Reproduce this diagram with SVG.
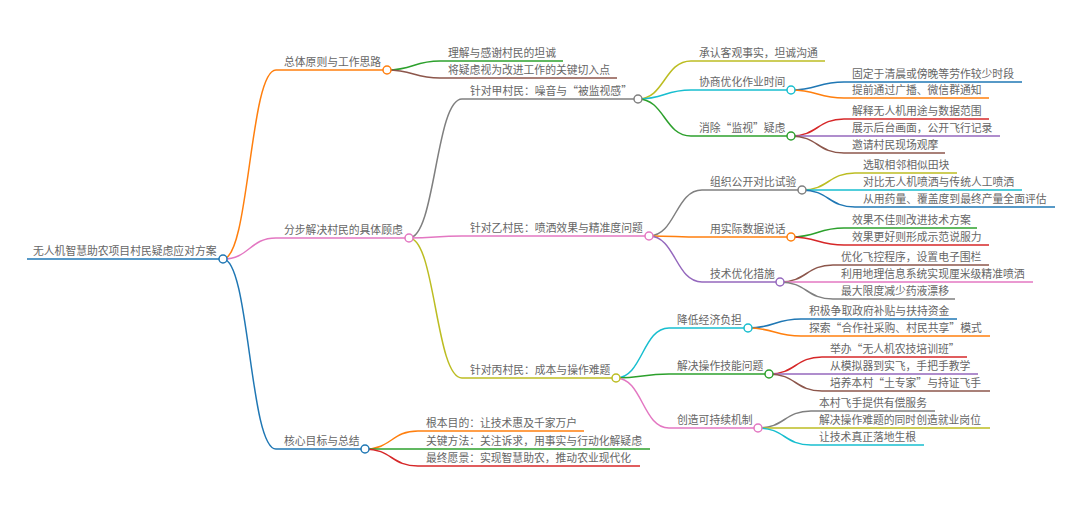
<svg xmlns="http://www.w3.org/2000/svg" width="1080" height="518" viewBox="0 0 1080 518">
<style>
text{font-family:"Noto Sans CJK SC","Noto Sans",sans-serif;font-size:10.8px;fill:#666}
path,line{fill:none;stroke-width:1.5}
circle{fill:#fff;stroke-width:1.5}
.c0{stroke:#1f77b4}.c1{stroke:#ff7f0e}.c2{stroke:#2ca02c}.c3{stroke:#d62728}.c4{stroke:#9467bd}
.c5{stroke:#8c564b}.c6{stroke:#e377c2}.c7{stroke:#7f7f7f}.c8{stroke:#bcbd22}.c9{stroke:#17becf}
</style>
<rect width="1080" height="518" fill="#fff"/>
<g id="connectors">
<path class="c1" d="M223 259C249.5 259 249.5 70 276 70"/>
<path class="c6" d="M223 259C249.5 259 249.5 238 276 238"/>
<path class="c0" d="M223 259C249.5 259 249.5 449 276 449"/>
<path class="c2" d="M387 70C413.5 70 413.5 61 440 61"/>
<path class="c5" d="M387 70C413.5 70 413.5 78 440 78"/>
<path class="c7" d="M409 238C435.5 238 435.5 99 462 99"/>
<path class="c6" d="M409 238C435.5 238 435.5 236 462 236"/>
<path class="c8" d="M409 238C435.5 238 435.5 378 462 378"/>
<path class="c8" d="M638 99C664.5 99 664.5 61 691 61"/>
<path class="c9" d="M638 99C664.5 99 664.5 90 691 90"/>
<path class="c2" d="M638 99C664.5 99 664.5 136 691 136"/>
<path class="c0" d="M791 90C817.5 90 817.5 82 844 82"/>
<path class="c1" d="M791 90C817.5 90 817.5 98 844 98"/>
<path class="c3" d="M791 136C817.5 136 817.5 119 844 119"/>
<path class="c4" d="M791 136C817.5 136 817.5 136 844 136"/>
<path class="c5" d="M791 136C817.5 136 817.5 153 844 153"/>
<path class="c7" d="M649 236C675.5 236 675.5 190 702 190"/>
<path class="c1" d="M649 236C675.5 236 675.5 237 702 237"/>
<path class="c4" d="M649 236C675.5 236 675.5 282 702 282"/>
<path class="c8" d="M802 190C828.5 190 828.5 173 855 173"/>
<path class="c9" d="M802 190C828.5 190 828.5 190 855 190"/>
<path class="c0" d="M802 190C828.5 190 828.5 207 855 207"/>
<path class="c2" d="M791 237C817.5 237 817.5 228 844 228"/>
<path class="c3" d="M791 237C817.5 237 817.5 245 844 245"/>
<path class="c5" d="M780 282C806.5 282 806.5 265 833 265"/>
<path class="c6" d="M780 282C806.5 282 806.5 282 833 282"/>
<path class="c7" d="M780 282C806.5 282 806.5 299 833 299"/>
<path class="c9" d="M616 378C642.5 378 642.5 328 669 328"/>
<path class="c2" d="M616 378C642.5 378 642.5 374 669 374"/>
<path class="c6" d="M616 378C642.5 378 642.5 428 669 428"/>
<path class="c0" d="M748 328C774.5 328 774.5 319 801 319"/>
<path class="c1" d="M748 328C774.5 328 774.5 336 801 336"/>
<path class="c3" d="M769 374C795.5 374 795.5 357 822 357"/>
<path class="c4" d="M769 374C795.5 374 795.5 374 822 374"/>
<path class="c5" d="M769 374C795.5 374 795.5 391 822 391"/>
<path class="c7" d="M758 428C784.5 428 784.5 411 811 411"/>
<path class="c8" d="M758 428C784.5 428 784.5 428 811 428"/>
<path class="c9" d="M758 428C784.5 428 784.5 445 811 445"/>
<path class="c1" d="M365 449C391.5 449 391.5 431 418 431"/>
<path class="c2" d="M365 449C391.5 449 391.5 449 418 449"/>
<path class="c3" d="M365 449C391.5 449 391.5 466 418 466"/>
</g>
<g id="root"><line class="c0" x1="27" y1="259" x2="219" y2="259"/><text x="33" y="255">无人机智慧助农项目村民疑虑应对方案</text><circle class="c0" cx="223" cy="259" r="4"/></g>
<g id="n-zongti"><line class="c1" x1="276" y1="70" x2="383" y2="70"/><text x="284" y="66">总体原则与工作思路</text><circle class="c1" cx="387" cy="70" r="4"/></g>
<g id="n-lijie"><line class="c2" x1="440" y1="61" x2="563" y2="61"/><text x="448" y="57">理解与感谢村民的坦诚</text></g>
<g id="n-jiang"><line class="c5" x1="440" y1="78" x2="617" y2="78"/><text x="448" y="74">将疑虑视为改进工作的关键切入点</text></g>
<g id="n-fenbu"><line class="c6" x1="276" y1="238" x2="405" y2="238"/><text x="284" y="234">分步解决村民的具体顾虑</text><circle class="c6" cx="409" cy="238" r="4"/></g>
<g id="n-jia"><line class="c7" x1="462" y1="99" x2="634" y2="99"/><text x="470" y="95">针对甲村民：噪音与“被监视感”</text><circle class="c7" cx="638" cy="99" r="4"/></g>
<g id="n-chengren"><line class="c8" x1="691" y1="61" x2="825" y2="61"/><text x="699" y="57">承认客观事实，坦诚沟通</text></g>
<g id="n-xieshang"><line class="c9" x1="691" y1="90" x2="787" y2="90"/><text x="699" y="86">协商优化作业时间</text><circle class="c9" cx="791" cy="90" r="4"/></g>
<g id="n-guding"><line class="c0" x1="844" y1="82" x2="1022" y2="82"/><text x="852" y="78">固定于清晨或傍晚等劳作较少时段</text></g>
<g id="n-tiqian"><line class="c1" x1="844" y1="98" x2="989" y2="98"/><text x="852" y="94">提前通过广播、微信群通知</text></g>
<g id="n-xiaochu"><line class="c2" x1="691" y1="136" x2="787" y2="136"/><text x="699" y="132">消除“监视”疑虑</text><circle class="c2" cx="791" cy="136" r="4"/></g>
<g id="n-jieshi"><line class="c3" x1="844" y1="119" x2="989" y2="119"/><text x="852" y="115">解释无人机用途与数据范围</text></g>
<g id="n-zhanshi"><line class="c4" x1="844" y1="136" x2="1000" y2="136"/><text x="852" y="132">展示后台画面，公开飞行记录</text></g>
<g id="n-yaoqing"><line class="c5" x1="844" y1="153" x2="945" y2="153"/><text x="852" y="149">邀请村民现场观摩</text></g>
<g id="n-yi"><line class="c6" x1="462" y1="236" x2="645" y2="236"/><text x="470" y="232">针对乙村民：喷洒效果与精准度问题</text><circle class="c6" cx="649" cy="236" r="4"/></g>
<g id="n-zuzhi"><line class="c7" x1="702" y1="190" x2="798" y2="190"/><text x="710" y="186">组织公开对比试验</text><circle class="c7" cx="802" cy="190" r="4"/></g>
<g id="n-xuanqu"><line class="c8" x1="855" y1="173" x2="957" y2="173"/><text x="863" y="169">选取相邻相似田块</text></g>
<g id="n-duibi"><line class="c9" x1="855" y1="190" x2="1022" y2="190"/><text x="863" y="186">对比无人机喷洒与传统人工喷洒</text></g>
<g id="n-congyong"><line class="c0" x1="855" y1="207" x2="1055" y2="207"/><text x="863" y="203">从用药量、覆盖度到最终产量全面评估</text></g>
<g id="n-yongshiji"><line class="c1" x1="702" y1="237" x2="787" y2="237"/><text x="710" y="233">用实际数据说话</text><circle class="c1" cx="791" cy="237" r="4"/></g>
<g id="n-xiaoguo1"><line class="c2" x1="844" y1="228" x2="977" y2="228"/><text x="852" y="224">效果不佳则改进技术方案</text></g>
<g id="n-xiaoguo2"><line class="c3" x1="844" y1="245" x2="989" y2="245"/><text x="852" y="241">效果更好则形成示范说服力</text></g>
<g id="n-jishu"><line class="c4" x1="702" y1="282" x2="776" y2="282"/><text x="710" y="278">技术优化措施</text><circle class="c4" cx="780" cy="282" r="4"/></g>
<g id="n-youhua"><line class="c5" x1="833" y1="265" x2="989" y2="265"/><text x="841" y="261">优化飞控程序，设置电子围栏</text></g>
<g id="n-liyong"><line class="c6" x1="833" y1="282" x2="1033" y2="282"/><text x="841" y="278">利用地理信息系统实现厘米级精准喷洒</text></g>
<g id="n-zuida"><line class="c7" x1="833" y1="299" x2="955" y2="299"/><text x="841" y="295">最大限度减少药液漂移</text></g>
<g id="n-bing"><line class="c8" x1="462" y1="378" x2="612" y2="378"/><text x="470" y="374">针对丙村民：成本与操作难题</text><circle class="c8" cx="616" cy="378" r="4"/></g>
<g id="n-jiangdi"><line class="c9" x1="669" y1="328" x2="744" y2="328"/><text x="677" y="324">降低经济负担</text><circle class="c9" cx="748" cy="328" r="4"/></g>
<g id="n-jiji"><line class="c0" x1="801" y1="319" x2="957" y2="319"/><text x="809" y="315">积极争取政府补贴与扶持资金</text></g>
<g id="n-tansuo"><line class="c1" x1="801" y1="336" x2="990" y2="336"/><text x="809" y="332">探索“合作社采购、村民共享”模式</text></g>
<g id="n-jiejue"><line class="c2" x1="669" y1="374" x2="765" y2="374"/><text x="677" y="370">解决操作技能问题</text><circle class="c2" cx="769" cy="374" r="4"/></g>
<g id="n-juban"><line class="c3" x1="822" y1="357" x2="967" y2="357"/><text x="830" y="353">举办“无人机农技培训班”</text></g>
<g id="n-congmoni"><line class="c4" x1="822" y1="374" x2="978" y2="374"/><text x="830" y="370">从模拟器到实飞，手把手教学</text></g>
<g id="n-peiyang"><line class="c5" x1="822" y1="391" x2="990" y2="391"/><text x="830" y="387">培养本村“土专家”与持证飞手</text></g>
<g id="n-chuangzao"><line class="c6" x1="669" y1="428" x2="754" y2="428"/><text x="677" y="424">创造可持续机制</text><circle class="c6" cx="758" cy="428" r="4"/></g>
<g id="n-bencun"><line class="c7" x1="811" y1="411" x2="935" y2="411"/><text x="819" y="407">本村飞手提供有偿服务</text></g>
<g id="n-jiejuenan"><line class="c8" x1="811" y1="428" x2="990" y2="428"/><text x="819" y="424">解决操作难题的同时创造就业岗位</text></g>
<g id="n-rang"><line class="c9" x1="811" y1="445" x2="924" y2="445"/><text x="819" y="441">让技术真正落地生根</text></g>
<g id="n-hexin"><line class="c0" x1="276" y1="449" x2="361" y2="449"/><text x="284" y="445">核心目标与总结</text><circle class="c0" cx="365" cy="449" r="4"/></g>
<g id="n-genben"><line class="c1" x1="418" y1="431" x2="584" y2="431"/><text x="426" y="427">根本目的：让技术惠及千家万户</text></g>
<g id="n-guanjian"><line class="c2" x1="418" y1="449" x2="650" y2="449"/><text x="426" y="445">关键方法：关注诉求，用事实与行动化解疑虑</text></g>
<g id="n-zuizhong"><line class="c3" x1="418" y1="466" x2="640" y2="466"/><text x="426" y="462">最终愿景：实现智慧助农，推动农业现代化</text></g>
</svg>
